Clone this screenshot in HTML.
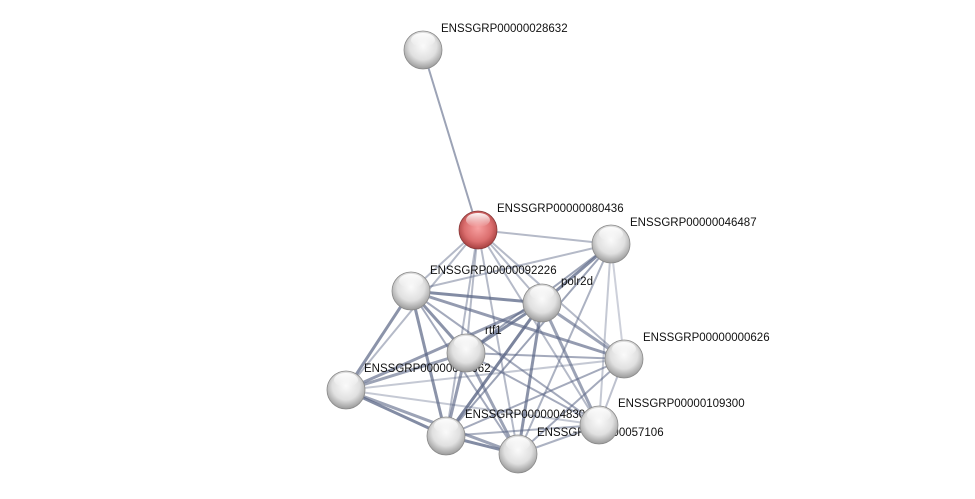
<!DOCTYPE html>
<html><head><meta charset="utf-8"><style>
html,body{margin:0;padding:0;background:#fff;}
svg{display:block;}
text{font-family:"Liberation Sans",sans-serif;font-size:11.5px;fill:#111;}
</style></head><body>
<svg width="975" height="499" viewBox="0 0 975 499" xmlns="http://www.w3.org/2000/svg">
<defs>
<radialGradient id="g" cx="50%" cy="40%" r="60%">
<stop offset="0" stop-color="#fafafa"/><stop offset="0.6" stop-color="#e0e0e0"/><stop offset="1" stop-color="#9a9a9a"/>
</radialGradient>
<radialGradient id="r" cx="50%" cy="45%" r="60%">
<stop offset="0" stop-color="#f7a0a0"/><stop offset="0.6" stop-color="#db6e6e"/><stop offset="1" stop-color="#9a3434"/>
</radialGradient>
<linearGradient id="hl" x1="0" y1="0" x2="0" y2="1">
<stop offset="0" stop-color="#fff" stop-opacity="0.95"/><stop offset="1" stop-color="#fff" stop-opacity="0"/>
</linearGradient>
</defs>
<g stroke="#5a6585" stroke-linecap="round" stroke-width="2" stroke-opacity="0.45">
<line x1="423" y1="50" x2="478" y2="230" stroke-opacity="0.6"/>
<line x1="478" y1="230" x2="611" y2="244"/>
<line x1="478" y1="230" x2="411" y2="291"/>
<line x1="478" y1="230" x2="542" y2="303"/>
<line x1="478" y1="230" x2="466" y2="353"/>
<line x1="478" y1="230" x2="624" y2="359"/>
<line x1="478" y1="230" x2="346" y2="390"/>
<line x1="478" y1="230" x2="446" y2="436"/>
<line x1="478" y1="230" x2="518" y2="454"/>
<line x1="478" y1="230" x2="599" y2="425"/>
<line x1="611" y1="244" x2="411" y2="291"/>
<line x1="611" y1="244" x2="542" y2="303" stroke-width="3" stroke-opacity="0.75"/>
<line x1="611" y1="244" x2="466" y2="353" stroke-opacity="0.6"/>
<line x1="611" y1="244" x2="624" y2="359" stroke-opacity="0.3"/>
<line x1="611" y1="244" x2="446" y2="436" stroke-opacity="0.6"/>
<line x1="611" y1="244" x2="518" y2="454" stroke-opacity="0.5"/>
<line x1="611" y1="244" x2="599" y2="425" stroke-opacity="0.35"/>
<line x1="411" y1="291" x2="542" y2="303" stroke-width="3" stroke-opacity="0.75"/>
<line x1="411" y1="291" x2="466" y2="353" stroke-width="3" stroke-opacity="0.7"/>
<line x1="411" y1="291" x2="624" y2="359" stroke-width="3" stroke-opacity="0.65"/>
<line x1="411" y1="291" x2="346" y2="390" stroke-width="3" stroke-opacity="0.7"/>
<line x1="411" y1="291" x2="446" y2="436" stroke-width="3" stroke-opacity="0.7"/>
<line x1="411" y1="291" x2="518" y2="454" stroke-opacity="0.55"/>
<line x1="411" y1="291" x2="599" y2="425" stroke-opacity="0.55"/>
<line x1="542" y1="303" x2="466" y2="353" stroke-width="3" stroke-opacity="0.75"/>
<line x1="542" y1="303" x2="624" y2="359" stroke-width="3" stroke-opacity="0.6"/>
<line x1="542" y1="303" x2="346" y2="390" stroke-width="3" stroke-opacity="0.65"/>
<line x1="542" y1="303" x2="446" y2="436" stroke-width="3" stroke-opacity="0.8"/>
<line x1="542" y1="303" x2="518" y2="454" stroke-width="3" stroke-opacity="0.7"/>
<line x1="542" y1="303" x2="599" y2="425" stroke-width="3" stroke-opacity="0.6"/>
<line x1="466" y1="353" x2="624" y2="359" stroke-opacity="0.55"/>
<line x1="466" y1="353" x2="346" y2="390" stroke-width="3" stroke-opacity="0.6"/>
<line x1="466" y1="353" x2="446" y2="436" stroke-width="3" stroke-opacity="0.65"/>
<line x1="466" y1="353" x2="518" y2="454" stroke-width="3" stroke-opacity="0.6"/>
<line x1="466" y1="353" x2="599" y2="425" stroke-opacity="0.55"/>
<line x1="624" y1="359" x2="346" y2="390" stroke-opacity="0.35"/>
<line x1="624" y1="359" x2="446" y2="436" stroke-opacity="0.55"/>
<line x1="624" y1="359" x2="518" y2="454" stroke-opacity="0.55"/>
<line x1="624" y1="359" x2="599" y2="425" stroke-opacity="0.4"/>
<line x1="346" y1="390" x2="446" y2="436" stroke-width="3" stroke-opacity="0.75"/>
<line x1="346" y1="390" x2="518" y2="454" stroke-width="3" stroke-opacity="0.6"/>
<line x1="346" y1="390" x2="599" y2="425" stroke-opacity="0.35"/>
<line x1="446" y1="436" x2="518" y2="454" stroke-width="3" stroke-opacity="0.75"/>
<line x1="446" y1="436" x2="599" y2="425" stroke-opacity="0.5"/>
<line x1="518" y1="454" x2="599" y2="425" stroke-opacity="0.5"/>
</g>
<g>
<text x="441" y="32">ENSSGRP00000028632</text>
<text x="497" y="212">ENSSGRP00000080436</text>
<text x="630" y="226">ENSSGRP00000046487</text>
<text x="430" y="274">ENSSGRP00000092226</text>
<text x="561" y="285">polr2d</text>
<text x="485" y="334">rtf1</text>
<text x="643" y="341">ENSSGRP00000000626</text>
<text x="364" y="372">ENSSGRP00000000062</text>
<text x="465" y="418">ENSSGRP00000048300</text>
<text x="618" y="407">ENSSGRP00000109300</text>
<text x="537" y="436">ENSSGRP00000057106</text>
</g>
<g stroke="#8a8a8a" stroke-width="0.8">
<circle cx="423" cy="50" r="19" fill="url(#g)"/>
<circle cx="478" cy="230" r="19" fill="url(#r)" stroke="#8a3a3a"/>
<circle cx="611" cy="244" r="19" fill="url(#g)"/>
<circle cx="411" cy="291" r="19" fill="url(#g)"/>
<circle cx="542" cy="303" r="19" fill="url(#g)"/>
<circle cx="466" cy="353" r="19" fill="url(#g)"/>
<circle cx="624" cy="359" r="19" fill="url(#g)"/>
<circle cx="346" cy="390" r="19" fill="url(#g)"/>
<circle cx="446" cy="436" r="19" fill="url(#g)"/>
<circle cx="518" cy="454" r="19" fill="url(#g)"/>
<circle cx="599" cy="425" r="19" fill="url(#g)"/>
</g>
<g fill="url(#hl)">
<ellipse cx="423" cy="40" rx="12" ry="7"/>
<ellipse cx="478" cy="220" rx="12" ry="7"/>
<ellipse cx="611" cy="234" rx="12" ry="7"/>
<ellipse cx="411" cy="281" rx="12" ry="7"/>
<ellipse cx="542" cy="293" rx="12" ry="7"/>
<ellipse cx="466" cy="343" rx="12" ry="7"/>
<ellipse cx="624" cy="349" rx="12" ry="7"/>
<ellipse cx="346" cy="380" rx="12" ry="7"/>
<ellipse cx="446" cy="426" rx="12" ry="7"/>
<ellipse cx="518" cy="444" rx="12" ry="7"/>
<ellipse cx="599" cy="415" rx="12" ry="7"/>
</g>
</svg>
</body></html>
